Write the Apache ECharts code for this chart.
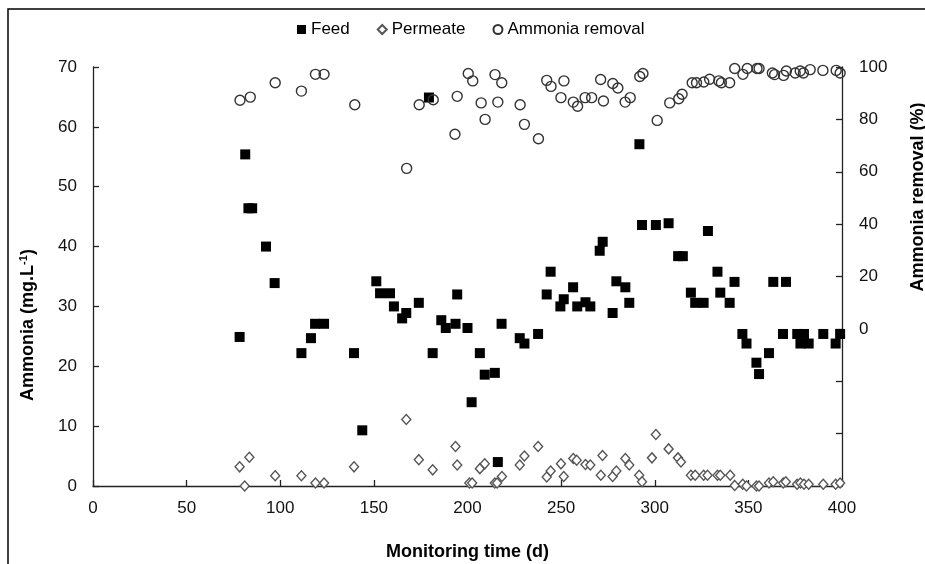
<!DOCTYPE html>
<html>
<head>
<meta charset="utf-8">
<title>Ammonia removal</title>
<script src="https://cdn.jsdelivr.net/npm/echarts@6/dist/echarts.min.js"></script>
<style>
  html, body { margin: 0; padding: 0; background: #fff; }
  #chart { width: 925px; height: 564px; }
</style>
</head>
<body>
<div id="chart"></div>
<script>
// monitoring days and concentrations
const feedDays = [78.3, 81.3, 83, 85, 92.4, 97, 111.3, 116.4, 118.6, 123.4, 139.4, 143.8, 151.3, 153.3, 158.6,
  160.7, 165.1, 167.3, 174, 179.4, 181.4, 186, 188.4, 193.6, 194.5, 200, 202.2, 206.6, 209.2, 214.6, 216.2,
  218.2, 227.9, 230.4, 237.7, 242.3, 244.4, 249.6, 251.4, 256.4, 258.6, 263, 265.6, 270.6, 272.2, 277.5,
  279.5, 284.3, 286.4, 291.8, 293.2, 300.6, 307.4, 312.5, 315, 319.3, 321.6, 326.1, 328.4, 333.5, 335,
  340, 342.6, 346.8, 349, 354.3, 355.7, 361, 363.3, 368.5, 370.1, 376.1, 377.8, 379.7, 382.2, 390, 396.6, 399];
const feedValues = [24.9, 55.4, 46.4, 46.4, 40.0, 33.9, 22.2, 24.7, 27.1, 27.1, 22.2, 9.3, 34.2, 32.2, 32.2,
  30.0, 28.0, 28.9, 30.6, 64.9, 22.2, 27.7, 26.4, 27.1, 32.0, 26.4, 14.0, 22.2, 18.6, 18.9, 4.0,
  27.1, 24.7, 23.8, 25.4, 32.0, 35.8, 30.0, 31.2, 33.2, 30.0, 30.7, 30.0, 39.3, 40.8, 28.9,
  34.2, 33.2, 30.6, 57.1, 43.6, 43.6, 43.9, 38.4, 38.4, 32.3, 30.6, 30.6, 42.6, 35.8, 32.3,
  30.6, 34.1, 25.4, 23.8, 20.6, 18.7, 22.2, 34.1, 25.4, 34.1, 25.4, 23.8, 25.4, 23.8, 25.4, 23.8, 25.4];

const permeateDays = [78.3, 81, 83.5, 97.3, 111.3, 118.8, 123.4, 139.4, 167.3, 174, 181.4, 193.6, 194.5, 201,
  202.5, 206.6, 209.2, 214.6, 215.8, 218.4, 227.9, 230.4, 237.7, 242.3, 244.4, 249.9, 251.4, 256.5, 258.3,
  263, 265.6, 271.2, 272.1, 277.5, 279.5, 284.3, 286.4, 291.7, 293.2, 298.5, 300.6, 307.4, 312.4, 314,
  319.3, 321.6, 326.1, 328.2, 333.5, 335, 340.3, 342.7, 347, 349, 354.3, 355.7, 361, 363.3, 368.6, 370,
  376, 377.8, 379.7, 382.2, 390, 396.6, 399];
const permeateValues = [3.2, 0, 4.8, 1.7, 1.7, 0.5, 0.5, 3.2, 11.1, 4.4, 2.7, 6.6, 3.5, 0.5,
  0.5, 2.9, 3.7, 0.5, 0.5, 1.6, 3.5, 5.0, 6.6, 1.5, 2.5, 3.7, 1.6, 4.6, 4.3,
  3.6, 3.5, 1.8, 5.1, 1.6, 2.5, 4.6, 3.5, 1.8, 0.7, 4.7, 8.6, 6.2, 4.7, 4.0,
  1.8, 1.8, 1.8, 1.8, 1.8, 1.8, 1.8, 0.1, 0.3, 0, 0, 0, 0.5, 0.7, 0.5, 0.7,
  0.3, 0.5, 0.3, 0.3, 0.3, 0.3, 0.5];

const removalDays = [78.5, 84, 97.3, 111.3, 118.8, 123.4, 139.8, 167.5, 174.2, 181.7, 193.3, 194.5, 200.4,
  202.8, 207.3, 209.4, 214.7, 216.2, 218.3, 228.1, 230.4, 237.9, 242.3, 244.6, 249.9, 251.5, 256.5, 258.8,
  262.8, 266.3, 271.1, 272.6, 277.6, 280.3, 284.2, 286.9, 292, 293.7, 301.3, 308, 312.8, 314.6, 320,
  322.3, 326.2, 329.3, 334.2, 335.6, 340, 342.7, 347.1, 349.4, 354.6, 355.7, 362.8, 364, 368.8, 370.3,
  375, 377.7, 379.4, 383, 389.8, 396.9, 399];
const removalValues = [87.3, 88.5, 94.0, 90.8, 97.2, 97.2, 85.6, 61.3, 85.6, 87.5, 74.3, 88.8, 97.5,
  94.7, 86.3, 80.0, 97.1, 86.6, 94.0, 85.6, 78.1, 72.6, 94.9, 92.6, 88.3, 94.7, 86.6, 85.0,
  88.3, 88.3, 95.2, 87.0, 93.7, 92.0, 86.6, 88.3, 96.4, 97.5, 79.6, 86.3, 87.9, 89.6, 94.0,
  94.0, 94.3, 95.3, 94.7, 94.0, 94.0, 99.4, 97.2, 99.4, 99.4, 99.4, 97.7, 97.1, 96.8, 98.5,
  97.7, 98.5, 97.7, 99.0, 98.7, 98.7, 97.7];

const seriesNames = ["Feed", "Permeate", "Ammonia removal"];

const font = "'Liberation Sans', Arial, sans-serif";

const pairs = (xs, ys) => xs.map((x, i) => [x, ys[i]]);

const createChart = () => {
  const myChart = echarts.init(document.getElementById("chart"));

  const axisLine = { show: true, lineStyle: { color: "#222", width: 1.3 } };
  const axisTick = { show: true, inside: true, length: 6, lineStyle: { color: "#222", width: 1.3 } };
  const axisLabel = { color: "#111", fontSize: 17, fontFamily: font };

  const option = {
    animation: false,
    backgroundColor: "#fff",
    legend: {
      left: 297,
      top: 21,
      padding: 0,
      itemGap: 27,
      itemWidth: 9,
      itemHeight: 9,
      textStyle: { color: "#000", fontSize: 17, fontFamily: font },
      data: seriesNames,
    },
    grid: {
      left: 93,
      right: 83,
      top: 67,
      bottom: 78,
      outerBoundsMode: "none",
    },
    xAxis: {
      type: "value",
      min: 0,
      max: 400,
      interval: 50,
      name: "Monitoring time (d)",
      nameLocation: "middle",
      nameGap: 57,
      nameTextStyle: { color: "#000", fontSize: 18, fontWeight: "bold", fontFamily: font },
      axisLine: axisLine,
      axisTick: axisTick,
      axisLabel: Object.assign({ margin: 14 }, axisLabel),
      splitLine: { show: false },
    },
    yAxis: [
      {
        type: "value",
        min: 0,
        max: 70,
        interval: 10,
        axisLine: axisLine,
        axisTick: axisTick,
        axisLabel: Object.assign({ margin: 16 }, axisLabel),
        splitLine: { show: false },
      },
      {
        type: "value",
        position: "right",
        min: -60,
        max: 100,
        interval: 20,
        axisLine: axisLine,
        axisTick: axisTick,
        axisLabel: Object.assign(
          {
            margin: 17,
            formatter: (v) => (v < 0 ? "" : String(v)),
          },
          axisLabel
        ),
        splitLine: { show: false },
      },
    ],
    graphic: [
      // frame of the original figure
      {
        type: "polyline",
        shape: { points: [[8, 564], [8, 9], [925, 9]] },
        style: { stroke: "#000", lineWidth: 1.5, fill: null },
        silent: true,
      },
      {
        type: "text",
        x: 28,
        y: 325,
        rotation: Math.PI / 2,
        style: {
          text: "{b|Ammonia (mg.L}{s|-1}{b|)}",
          align: "center",
          verticalAlign: "middle",
          fill: "#000",
          rich: {
            b: { fontSize: 18, fontWeight: "bold", fontFamily: font, lineHeight: 20 },
            s: { fontSize: 11, fontWeight: "bold", fontFamily: font, lineHeight: 12, verticalAlign: "top" },
          },
        },
      },
      {
        type: "text",
        x: 918,
        y: 197,
        rotation: Math.PI / 2,
        style: {
          text: "Ammonia removal (%)",
          align: "center",
          verticalAlign: "middle",
          fill: "#000",
          fontSize: 18,
          fontWeight: "bold",
          fontFamily: font,
        },
      },
    ],
    series: [
      {
        name: seriesNames[0],
        type: "scatter",
        symbol: "rect",
        symbolSize: 10,
        clip: false,
        itemStyle: { color: "#000", opacity: 1 },
        data: pairs(feedDays, feedValues),
      },
      {
        name: seriesNames[1],
        type: "scatter",
        symbol: "diamond",
        symbolSize: [9, 10],
        clip: false,
        itemStyle: { color: "#fff", borderColor: "#555", borderWidth: 1.4, opacity: 1 },
        data: pairs(permeateDays, permeateValues),
      },
      {
        name: seriesNames[2],
        type: "scatter",
        yAxisIndex: 1,
        symbol: "circle",
        symbolSize: 10,
        clip: false,
        itemStyle: { color: "rgba(255,255,255,0)", borderColor: "#333", borderWidth: 1.4, opacity: 1 },
        data: pairs(removalDays, removalValues),
      },
    ],
  };

  myChart.setOption(option);

  window.addEventListener("resize", () => {
    myChart.resize();
  });
};

createChart();
</script>
</body>
</html>
